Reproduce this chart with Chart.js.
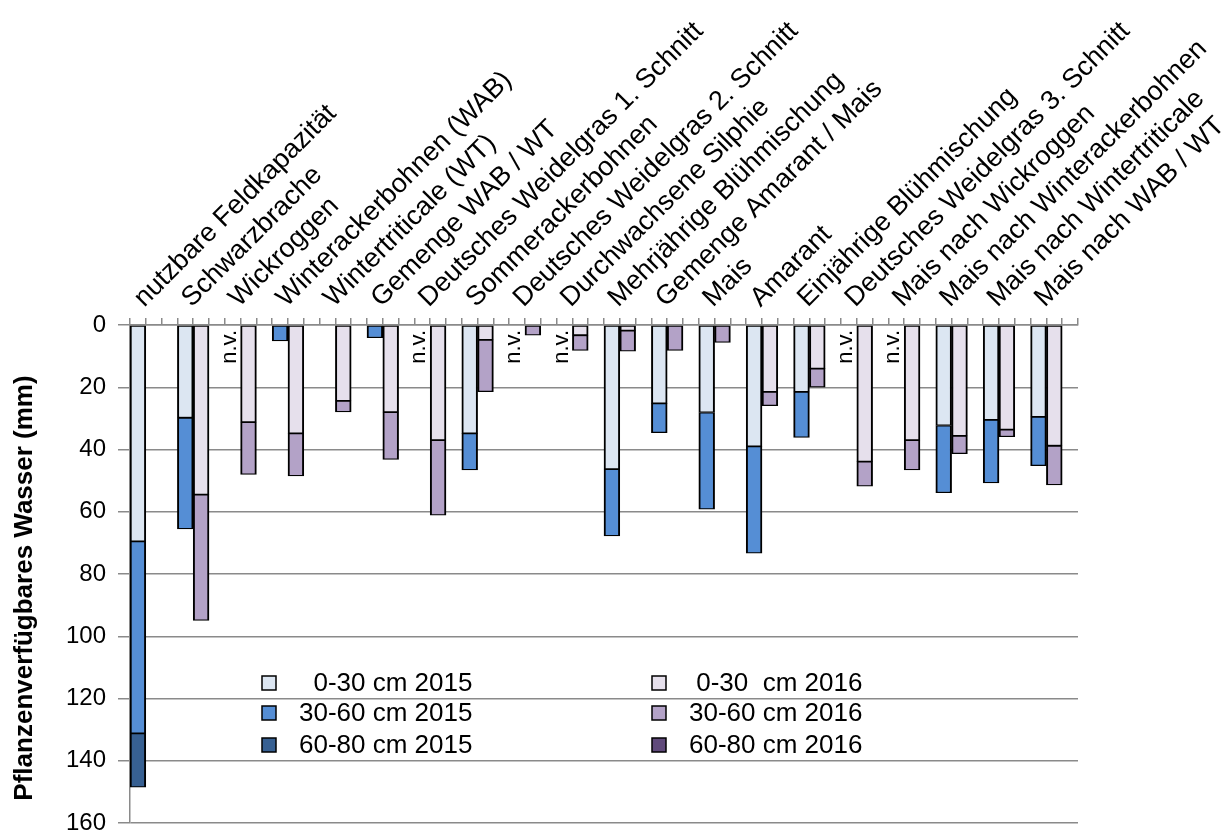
<!DOCTYPE html>
<html>
<head>
<meta charset="utf-8">
<script src="https://cdn.jsdelivr.net/npm/chart.js@4"></script>
<style>
  html, body { margin: 0; padding: 0; background: #fff; }
  #wrap { width: 1230px; height: 833px; }
</style>
</head>
<body>
<div id="wrap"><canvas id="myChart" width="1230" height="833"></canvas></div>
<script>
// Varianten (Reihenfolge wie auf der Achse)
var kategorien = [
    'nutzbare Feldkapazität', 'Schwarzbrache', 'Wickroggen',
    'Winterackerbohnen (WAB)', 'Wintertriticale (WT)', 'Gemenge WAB / WT',
    'Deutsches Weidelgras 1. Schnitt', 'Sommerackerbohnen',
    'Deutsches Weidelgras 2. Schnitt', 'Durchwachsene Silphie',
    'Mehrjährige Blühmischung', 'Gemenge Amarant / Mais', 'Mais', 'Amarant',
    'Einjährige Blühmischung', 'Deutsches Weidelgras 3. Schnitt',
    'Mais nach Wickroggen', 'Mais nach Winterackerbohnen',
    'Mais nach Wintertriticale', 'Mais nach WAB / WT'
];

// pflanzenverfügbares Wasser in mm je Bodenschicht
var w0_30_2015  = [69.5, 29.8, null, null, null, null, null, 34.8, null, null, 46.3, 25.2, 28.1, 39.0, 21.5, null, null, 32.3, 30.5, 29.5];
var w30_60_2015 = [61.7, 35.7, null, 5.1, null, 4.1, null, 11.8, null, null, 21.5, 9.4, 31.1, 34.3, 14.6, null, null, 21.6, 20.2, 15.7];
var w60_80_2015 = [17.3, null, null, null, null, null, null, null, null, null, null, null, null, null, null, null, null, null, null, null];
var w0_30_2016  = [null, 54.5, 31.2, 34.8, 24.4, 28.0, 37.0, 4.8, null, 3.3, 1.8, null, null, 21.5, 14.0, 43.9, 37.0, 35.6, 33.6, 38.8];
var w30_60_2016 = [null, 40.4, 16.8, 13.7, 3.5, 15.2, 24.1, 16.6, 3.3, 4.9, 6.6, 8.2, 5.6, 4.4, 6.0, 7.9, 9.6, 5.7, 2.3, 12.6];
var w60_80_2016 = [null, null, null, null, null, null, null, null, null, null, null, null, null, null, null, null, null, null, null, null];

// 2015 nicht vorhanden (Index in kategorien)
var nichtVorhanden2015 = [2, 6, 8, 9, 15, 16];

var yTicks = [0, 20, 40, 60, 80, 100, 120, 140, 160];
var yTitel = 'Pflanzenverfügbares Wasser (mm)';

// jede Variante belegt drei Plätze: 2015, 2016, Lücke
var plaetze = [];
kategorien.forEach(function(k) { plaetze.push(k, '', ''); });

function aufPlaetze(werte, versatz) {
    var out = new Array(kategorien.length * 3).fill(null);
    werte.forEach(function(v, i) { out[i * 3 + versatz] = v; });
    return out;
}

var schrift = "'Liberation Sans', Arial, sans-serif";
var grau = '#8a8a8a';

function reihe(label, werte, versatz, farbe) {
    return {
        label: label,
        data: aufPlaetze(werte, versatz),
        backgroundColor: farbe,
        borderColor: '#000',
        // oben/unten dünner, damit die Trennlinie im Stapel nicht doppelt so dick wird
        borderWidth: { left: 2, right: 2, top: 1.25, bottom: 1.25 },
        borderSkipped: false,
        categoryPercentage: 1,
        barPercentage: 1
    };
}

// "n.v." senkrecht über dem leeren 2015-Platz
var nvPlugin = {
    id: 'nv',
    afterDatasetsDraw: function(chart) {
        var ctx = chart.ctx, x = chart.scales.x;
        ctx.save();
        ctx.font = '22px ' + schrift;
        ctx.fillStyle = '#000';
        ctx.textAlign = 'right';
        ctx.textBaseline = 'middle';
        nichtVorhanden2015.forEach(function(i) {
            var px = x.getPixelForValue(i * 3);
            ctx.save();
            ctx.translate(px - 3, chart.chartArea.top + 5);
            ctx.rotate(-Math.PI / 2);
            ctx.fillText('n.v.', 0, 0);
            ctx.restore();
        });
        ctx.restore();
    }
};

// Achsentitel links, etwas unterhalb der Mitte
var titelPlugin = {
    id: 'ytitel',
    afterDraw: function(chart) {
        var ctx = chart.ctx, a = chart.chartArea;
        ctx.save();
        ctx.font = 'bold 26px ' + schrift;
        ctx.fillStyle = '#000';
        ctx.textAlign = 'center';
        ctx.textBaseline = 'middle';
        ctx.translate(25, (a.top + a.bottom) / 2 + 14);
        ctx.rotate(-Math.PI / 2);
        ctx.fillText(yTitel, 0, 0);
        ctx.restore();
    }
};

// Legende in zwei Spalten innerhalb der Grafik
var legendePlugin = {
    id: 'legende',
    afterDraw: function(chart) {
        var ctx = chart.ctx;
        var spalteX = [262, 652];
        var zeileY = [683, 713, 745];
        ctx.save();
        ctx.font = '26px ' + schrift;
        ctx.textBaseline = 'middle';
        ctx.textAlign = 'left';
        chart.data.datasets.forEach(function(ds, i) {
            var sx = spalteX[Math.floor(i / 3)], sy = zeileY[i % 3];
            ctx.fillStyle = ds.backgroundColor;
            ctx.fillRect(sx, sy - 7, 14, 14);
            ctx.lineWidth = 1.5;
            ctx.strokeStyle = '#000';
            ctx.strokeRect(sx, sy - 7, 14, 14);
            ctx.fillStyle = '#000';
            ctx.fillText(ds.label, sx + 37, sy + 1);
        });
        ctx.restore();
    }
};

var ctx = document.getElementById('myChart').getContext('2d');
var myChart = new Chart(ctx, {
    type: 'bar',
    data: {
        labels: plaetze,
        datasets: [
            reihe('  0-30 cm 2015', w0_30_2015, 0, '#DCE6F2'),
            reihe('30-60 cm 2015', w30_60_2015, 0, '#558ED5'),
            reihe('60-80 cm 2015', w60_80_2015, 0, '#376092'),
            reihe(' 0-30  cm 2016', w0_30_2016, 1, '#E6E0EC'),
            reihe('30-60 cm 2016', w30_60_2016, 1, '#B3A2C7'),
            reihe('60-80 cm 2016', w60_80_2016, 1, '#604A7B')
        ]
    },
    options: {
        responsive: false,
        animation: false,
        layout: { padding: { right: 152, top: 0, bottom: 0, left: 0 } },
        plugins: {
            legend: { display: false },
            tooltip: { enabled: false }
        },
        scales: {
            x: {
                position: 'top',
                stacked: true,
                grid: { drawOnChartArea: false, color: grau, lineWidth: 1.5, tickLength: 7 },
                border: { color: grau, width: 1.5 },
                ticks: {
                    autoSkip: false,
                    minRotation: 45,
                    maxRotation: 45,
                    padding: 4,
                    labelOffset: 24,
                    color: '#000',
                    font: { family: schrift, size: 27 }
                },
                afterFit: function(scale) { scale.height = 325; }
            },
            y: {
                stacked: true,
                reverse: true,
                min: 0,
                max: 160,
                afterBuildTicks: function(scale) {
                    scale.ticks = yTicks.map(function(v) { return { value: v }; });
                },
                afterFit: function(scale) {
                    scale.width = 130;
                    scale.paddingTop = 0;
                    scale.paddingBottom = 10;
                },
                grid: { color: grau, lineWidth: 1.5, tickLength: 12 },
                border: { color: grau, width: 1.5 },
                ticks: {
                    padding: 12,
                    color: '#000',
                    font: { family: schrift, size: 24 }
                }
            }
        }
    },
    plugins: [nvPlugin, titelPlugin, legendePlugin]
});
</script>
</body>
</html>
